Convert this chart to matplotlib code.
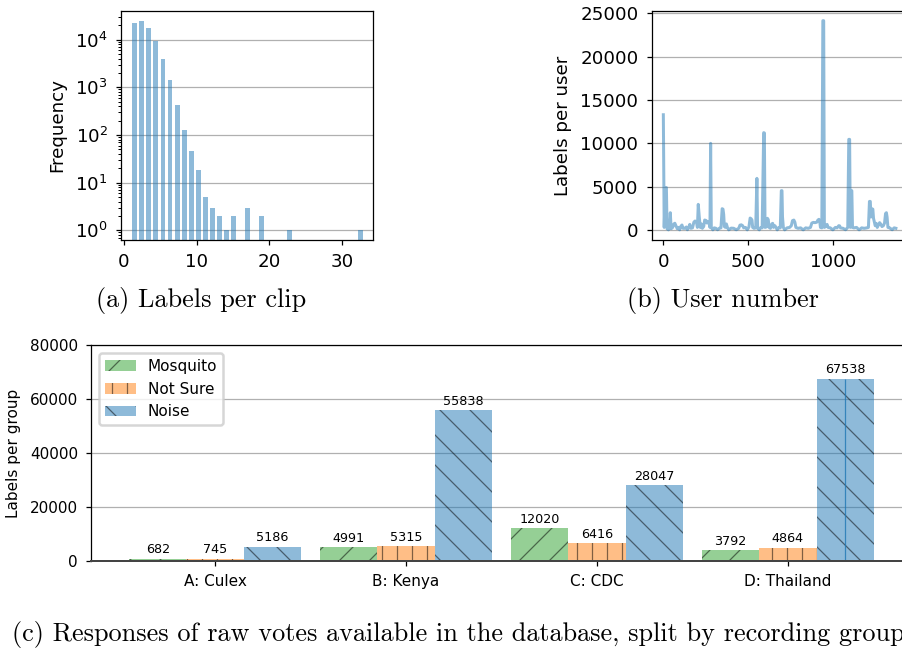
import matplotlib
matplotlib.use('Agg')
import matplotlib.pyplot as plt
import numpy as np

# ---- labels per clip (histogram counts, one bin per label count 1..33)
clip_labels = np.arange(1, 34)
clip_freq = [22400, 24600, 17600, 9350, 3900, 1420, 425, 126, 46, 18,
             5, 3, 2, 1, 2, 0, 3, 0, 2, 0,
             0, 0, 1, 0, 0, 0, 0, 0, 0, 0,
             0, 0, 1]

# ---- labels per user (readings along the user index)
user_ids = [0, 5, 12, 18, 22, 30, 36, 41, 46, 55, 62, 68, 74, 82, 90, 96, 104, 110, 116,
            126, 136, 142, 150, 156, 162, 172, 180, 187, 195, 201, 206, 212, 218, 224,
            230, 238, 244, 252, 258, 264, 270, 275, 279, 283, 292, 300, 310, 320, 330,
            340, 347, 352, 356, 360, 366, 372, 378, 386, 400, 415, 430, 445, 452, 460,
            468, 474, 485, 495, 505, 512, 518, 523, 527, 535, 545, 552, 556, 566, 575,
            583, 592, 596, 600, 608, 614, 619, 624, 632, 640, 645, 650, 658, 665, 672,
            682, 690, 696, 700, 703, 708, 716, 730, 745, 755, 762, 770, 776, 782, 795,
            810, 825, 840, 855, 868, 876, 885, 895, 905, 912, 918, 922, 927, 935, 941,
            946, 950, 958, 966, 972, 985, 1000, 1015, 1025, 1035, 1040, 1045, 1060, 1075,
            1088, 1094, 1099, 1103, 1108, 1112, 1116, 1124, 1140, 1155, 1170, 1185, 1200,
            1210, 1216, 1221, 1225, 1230, 1236, 1240, 1245, 1250, 1256, 1262, 1270, 1276,
            1282, 1290, 1298, 1305, 1311, 1316, 1320, 1325, 1335, 1350, 1362, 1372]
user_counts = [13300, 300, 4900, 4900, 150, 20, 200, 2000, 150, 300, 700, 780, 500, 150, 300,
               20, 450, 580, 200, 200, 350, 30, 300, 650, 200, 250, 900, 1040, 950, 300, 2960,
               1500, 300, 700, 200, 400, 1150, 1100, 800, 950, 900, 300, 10000, 300, 20, 250,
               200, 30, 200, 250, 2460, 2400, 1800, 400, 300, 700, 300, 20, 220, 200, 30, 200,
               560, 600, 500, 250, 300, 20, 350, 1380, 1300, 1150, 300, 200, 250, 5960, 200,
               20, 300, 250, 11230, 11200, 300, 350, 1350, 1200, 300, 200, 700, 770, 300, 500,
               300, 20, 300, 250, 4540, 4540, 1500, 300, 20, 250, 300, 500, 1080, 1150, 900,
               300, 200, 250, 20, 250, 200, 300, 800, 880, 850, 900, 1150, 1230, 1100, 300,
               250, 24150, 24150, 300, 400, 650, 300, 250, 20, 300, 250, 500, 480, 250, 200,
               30, 300, 10460, 10460, 300, 4540, 4540, 300, 250, 300, 20, 250, 200, 250, 300,
               3300, 3300, 1500, 2460, 2400, 1350, 900, 500, 770, 300, 600, 850, 700, 400, 500,
               800, 1900, 2000, 1500, 300, 250, 30, 250, 200]

# ---- labels per recording group
groups = ['A: Culex', 'B: Kenya', 'C: CDC', 'D: Thailand']
mosquito = [682, 4991, 12020, 3792]
not_sure = [745, 5315, 6416, 4864]
noise = [5186, 55838, 28047, 67538]

W, H, DPI = 902, 650, 180

matplotlib.rcParams.update({
    'font.size': 7.3,
    'axes.linewidth': 0.5,
    'xtick.major.size': 2.0, 'ytick.major.size': 2.0,
    'xtick.major.width': 0.5, 'ytick.major.width': 0.5,
    'ytick.minor.size': 1.2, 'ytick.minor.width': 0.4,
    'xtick.major.pad': 3.3, 'ytick.major.pad': 3.3,
    'axes.labelpad': 3.4,
    'grid.color': '#b0b0b0', 'grid.linewidth': 0.5,
    'hatch.linewidth': 0.5,
})


def px_axes(fig, left, top, right, bottom):
    # axes placed from pixel edges of the saved image
    return fig.add_axes([left / W, 1 - bottom / H, (right - left) / W, (bottom - top) / H])


def autolabel(rects, ax):
    for rect in rects:
        height = rect.get_height()
        ax.text(rect.get_x() + rect.get_width() / 2, height + 1000, '%d' % height,
                ha='center', va='bottom', fontsize=5.1)


fig = plt.figure(figsize=(W / DPI + 0.0001, H / DPI + 0.0001), dpi=DPI)

# (a) histogram of labels per clip
ax1 = px_axes(fig, 121, 11, 373.3, 240)
ax1.hist(clip_labels, bins=np.linspace(1, 33, 34), weights=clip_freq,
         rwidth=0.7, color='C0', alpha=0.5, log=True)
ax1.set_ylim(10 ** -0.203, 10 ** 4.601)
ax1.set_xlim(-0.41, 34.3)
ax1.set_xticks([0, 10, 20, 30])
ax1.set_ylabel('Frequency')
ax1.yaxis.grid(True, which='major')
ax1.set_axisbelow(True)

# (b) labels per user
ax2 = px_axes(fig, 651.7, 11, 907.4, 240)
ax2.plot(user_ids, user_counts, color='C0', alpha=0.5, lw=1.2)
ax2.set_xlim(-68.6, 1440)
ax2.set_ylim(-1150, 25270)
ax2.set_xticks([0, 500, 1000])
ax2.set_ylabel('Labels per user')
ax2.yaxis.grid(True)
ax2.set_axisbelow(True)

# (c) grouped bars per recording group
ax3 = px_axes(fig, 91.3, 345.3, 911, 560.7)
ind = np.arange(len(groups))
width = 0.3
rects_m = ax3.bar(ind - width, mosquito, width, color='C2', alpha=0.5,
                  edgecolor='black', linewidth=0, hatch='//', label='Mosquito')
rects_n = ax3.bar(ind, not_sure, width, color='C1', alpha=0.5,
                  edgecolor='black', linewidth=0, hatch='||', label='Not Sure')
rects_z = ax3.bar(ind + width, noise, width, color='C0', alpha=0.5,
                  edgecolor='black', linewidth=0, hatch='\\\\', label='Noise')
# thin seam line inside the last noise bar
last = rects_z[-1]
ax3.vlines(last.get_x() + last.get_width() / 2, 0, last.get_height(),
           color='C0', lw=0.5, alpha=0.8)
for rects in (rects_m, rects_n, rects_z):
    autolabel(rects, ax3)
ax3.set_xlim(-0.648, 3.645)
ax3.set_ylim(0, 80000)
ax3.set_yticks(np.arange(0, 80001, 20000))
ax3.set_xticks(ind)
ax3.set_xticklabels(groups)
ax3.tick_params(labelsize=6.1)
ax3.spines['bottom'].set_color('#444444')
ax3.spines['bottom'].set_linewidth(0.8)
ax3.set_ylabel('Labels per group', fontsize=6.1)
ax3.yaxis.grid(True)
ax3.set_axisbelow(True)
ax3.legend(loc='upper left', fontsize=6.1)

# sub-figure captions
cap = dict(fontfamily='cmr10', fontsize=10.5, va='baseline')
fig.text(201.5 / W, 1 - 307 / H, '(a) Labels per clip', ha='center', **cap)
fig.text(723 / W, 1 - 307 / H, '(b) User number', ha='center', **cap)
fig.text(12 / W, 1 - 641 / H,
         '(c) Responses of raw votes available in the database, split by recording group',
         ha='left', **cap)

fig.savefig('out.png', dpi=DPI)
